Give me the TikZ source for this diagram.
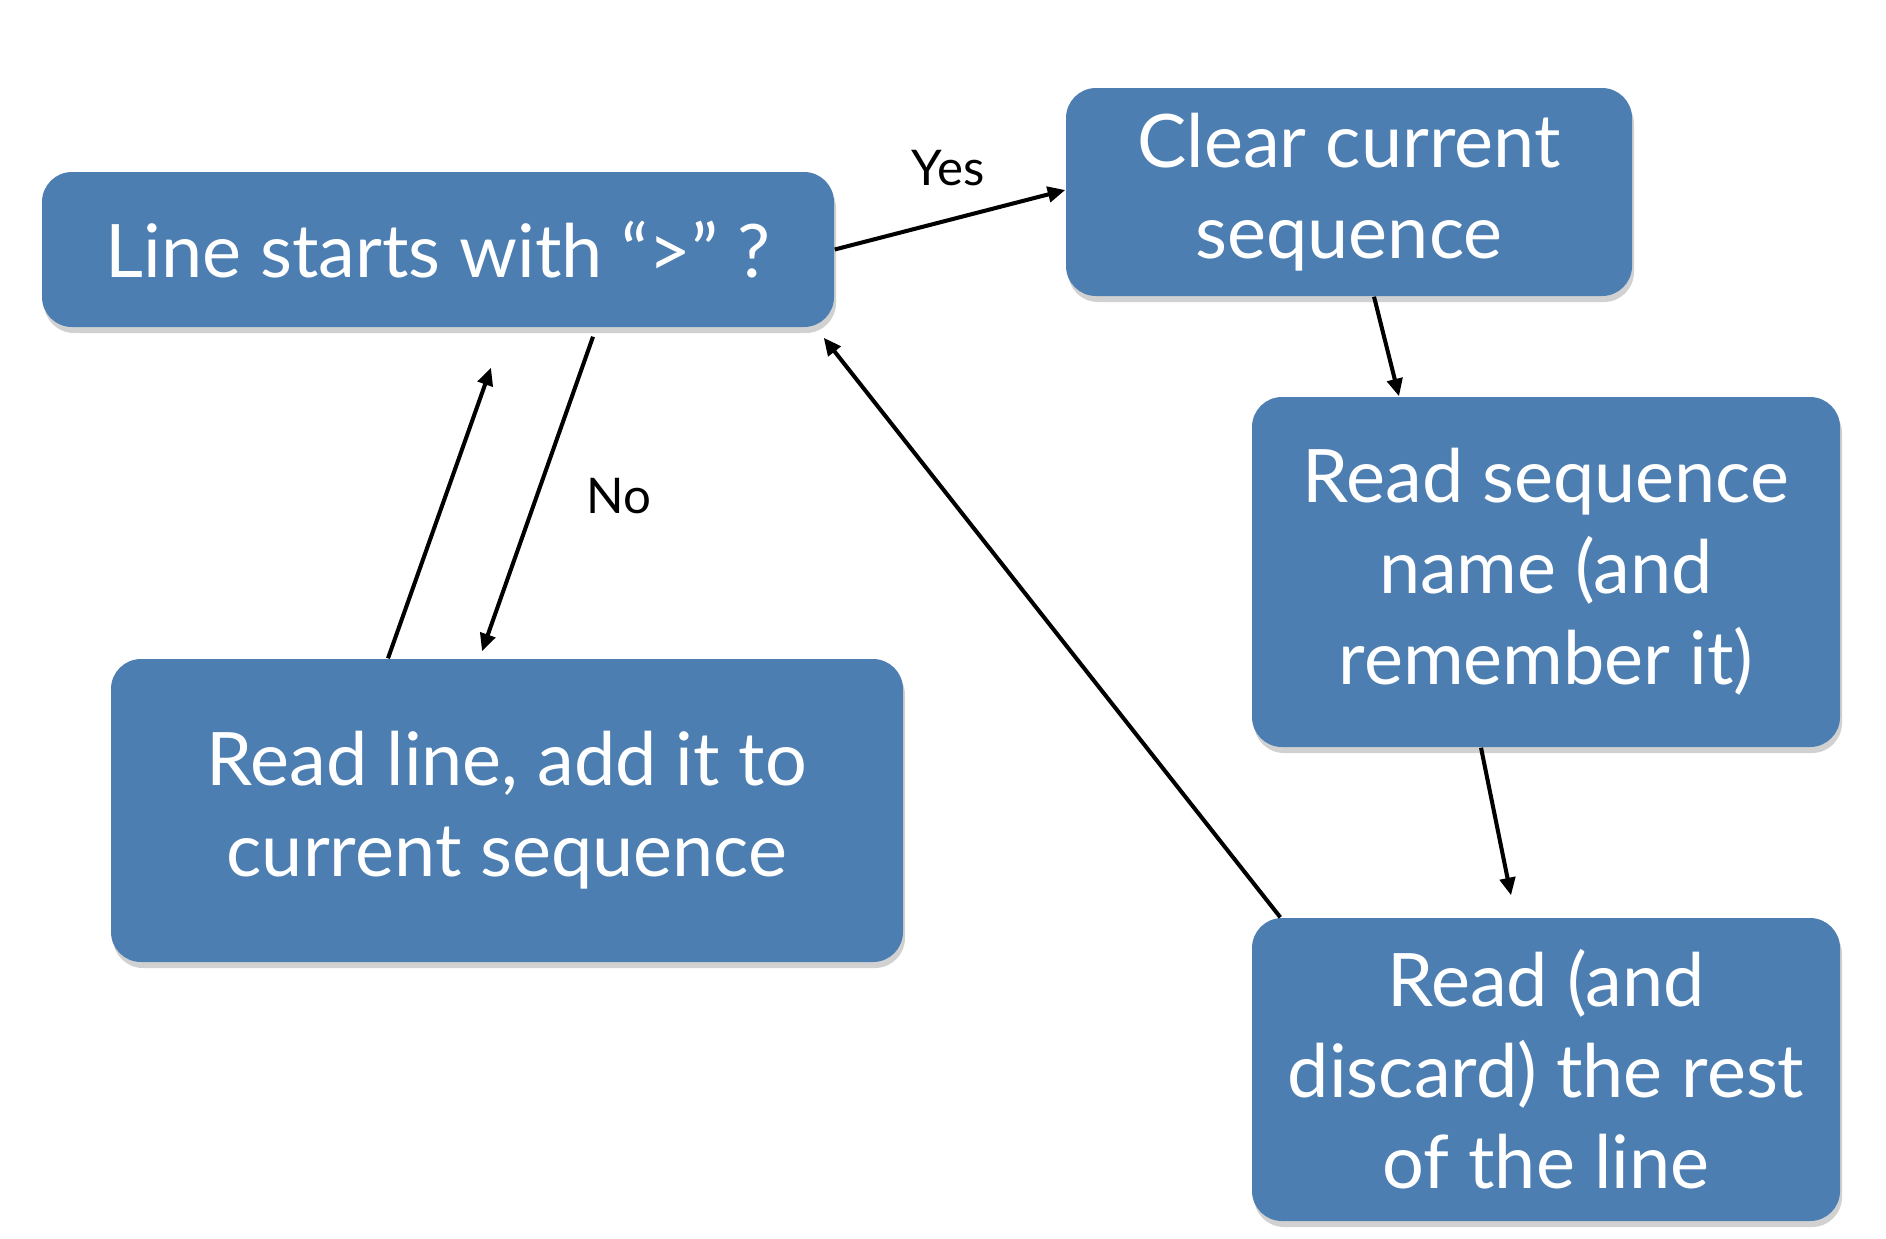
\documentclass[tikz,border=0pt]{standalone}
\usepackage{fontspec}
\setmainfont{Lato}
\usetikzlibrary{arrows.meta,positioning,shadows}
\definecolor{boxblue}{RGB}{76,126,177}

\begin{document}
\begin{tikzpicture}[
        box/.style={rectangle, rounded corners=3mm, fill=boxblue, text=white, align=center, inner sep=0pt, font=\fontsize{21}{25.9}\selectfont, drop shadow={shadow xshift=0.2mm, shadow yshift=-0.6mm, opacity=0.18, fill=black}},
        arrow/.style={-{Triangle[length=5pt,width=4.4pt]}, line width=1.15pt},
        lbl/.style={font=\fontsize{14}{17}\selectfont}
    ]
        \useasboundingbox (0,0) rectangle (18.86,-12.38);

        % Test
        \node[box, minimum width=7.92cm, minimum height=1.55cm] (start) at (4.38,-2.495) {Line starts with “>” ?};

        % Header branch
        \node[box, minimum width=5.66cm, minimum height=2.08cm] (clear) at (13.49,-1.92) {Clear current\\sequence};
        \node[box, minimum width=5.88cm, minimum height=3.50cm] (readname) at (15.46,-5.72) {Read sequence\\name (and\\remember it)};
        \node[box, minimum width=5.88cm, minimum height=3.03cm] (discard) at (15.46,-10.695) {Read (and\\discard) the rest\\of the line};

        % Sequence branch
        \node[box, minimum width=7.92cm, minimum height=3.03cm] (readline) at (5.07,-8.105) {Read line, add it to\\current sequence};

        % Labels
        \node[lbl] (yes) at (9.48,-1.68) {Yes};
        \node[lbl] (no) at (6.19,-4.96) {No};

        \draw[arrow] (start.east) -- ([yshift=0.02cm]clear.west);
        \draw[arrow] ([xshift=0.25cm]clear.south) -- ([xshift=-1.47cm]readname.north);
        \draw[arrow] ([xshift=-0.65cm]readname.south) -- ([xshift=-0.35cm, yshift=0.22cm]discard.north);
        \draw[arrow] ([xshift=0.29cm]discard.north west) -- ([xshift=-0.11cm, yshift=-0.1cm]start.south east);
        \draw[arrow] ([xshift=1.55cm, yshift=-0.09cm]start.south) -- ([xshift=-0.25cm, yshift=0.07cm]readline.north);
        \draw[arrow] ([xshift=-1.19cm]readline.north) -- ([xshift=0.53cm, yshift=-0.4cm]start.south);
    \end{tikzpicture}
\end{document}
